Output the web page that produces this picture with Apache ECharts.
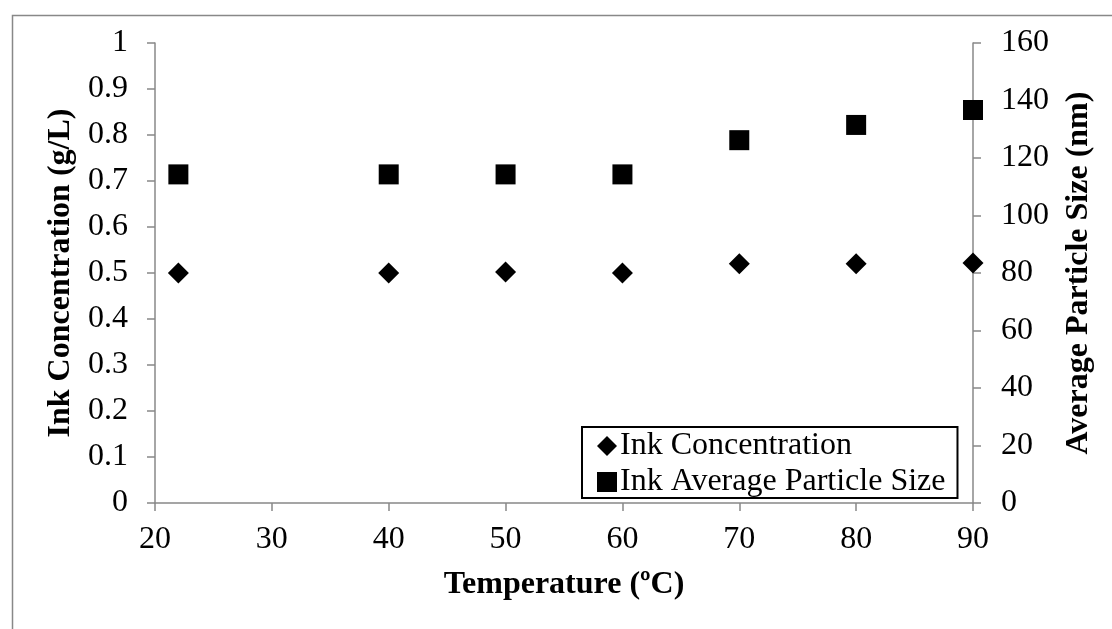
<!DOCTYPE html>
<html>
<head>
<meta charset="utf-8">
<script src="https://cdn.jsdelivr.net/npm/echarts@6/dist/echarts.min.js"></script>
<style>
html,body{margin:0;padding:0;background:#fff;}
#chart{width:1112px;height:629px;}
</style>
</head>
<body>
<div id="chart"></div>
<script>
var temperatures = [22, 40, 50, 60, 70, 80, 90];
var inkConcentration = [0.500, 0.500, 0.502, 0.500, 0.520, 0.520, 0.522];
var particleSize = [114.3, 114.3, 114.3, 114.3, 126.2, 131.5, 136.7];
var seriesNames = ['Ink Concentration', 'Ink Average Particle Size'];
var xTitle = 'Temperature (ºC)';
var yLeftTitle = 'Ink Concentration (g/L)';
var yRightTitle = 'Average Particle Size (nm)';

var FONT = '"Liberation Serif", "Times New Roman", serif';
var AX = '#888888';
var FS = 32;

function pairs(xs, ys){ return xs.map(function(x,i){ return [x, ys[i]]; }); }

var chart = echarts.init(document.getElementById('chart'), null, {renderer:'canvas'});
chart.setOption({
  animation: false,
  backgroundColor: '#fff',
  textStyle: {fontFamily: FONT, color: '#000'},
  graphic: [{
    type: 'rect', left: 10, top: 13,
    shape: {x: 0, y: 0, width: 1200, height: 700},
    style: {fill: 'none', stroke: AX, lineWidth: 1.5},
    silent: true, z: -10
  }],
  grid: {left: 155, right: 139, top: 43, bottom: 126, containLabel: false},
  legend: {
    orient: 'vertical',
    left: 582, top: 427,
    itemWidth: 20, itemHeight: 20,
    itemGap: 4,
    padding: [3, 12, 0, 15],
    borderColor: '#000', borderWidth: 2,
    backgroundColor: '#fff',
    itemStyle: {opacity: 1, color: '#000'},
    textStyle: {fontFamily: FONT, fontSize: FS, color: '#000', padding: [0,0,0,-2]},
    data: [
      {name: seriesNames[0], icon: 'diamond'},
      {name: seriesNames[1], icon: 'rect'}
    ]
  },
  xAxis: {
    type: 'value', min: 20, max: 90, interval: 10,
    name: xTitle, nameLocation: 'middle', nameGap: 66,
    nameTextStyle: {fontFamily: FONT, fontSize: FS, fontWeight: 'bold', color: '#000'},
    axisLine: {show: true, lineStyle: {color: AX, width: 1.5}},
    axisTick: {show: true, length: 8, lineStyle: {color: AX, width: 1.5}},
    axisLabel: {fontFamily: FONT, fontSize: FS, color: '#000', margin: 21},
    splitLine: {show: false}
  },
  yAxis: [{
    type: 'value', min: 0, max: 1, interval: 0.1, position: 'left',
    name: yLeftTitle, nameLocation: 'middle', nameGap: 78, nameRotate: 90,
    nameTextStyle: {fontFamily: FONT, fontSize: FS, fontWeight: 'bold', color: '#000'},
    axisLine: {show: true, lineStyle: {color: AX, width: 1.5}},
    axisTick: {show: true, length: 8, lineStyle: {color: AX, width: 1.5}},
    axisLabel: {fontFamily: FONT, fontSize: FS, color: '#000', margin: 27,
      formatter: function(v){ return String(Math.round(v*10)/10); }},
    splitLine: {show: false}
  }, {
    type: 'value', min: 0, max: 160, interval: 20, position: 'right',
    name: yRightTitle, nameLocation: 'middle', nameGap: 90, nameRotate: 90,
    nameTextStyle: {fontFamily: FONT, fontSize: FS, fontWeight: 'bold', color: '#000'},
    axisLine: {show: true, lineStyle: {color: AX, width: 1.5}},
    axisTick: {show: true, length: 8, lineStyle: {color: AX, width: 1.5}},
    axisLabel: {fontFamily: FONT, fontSize: FS, color: '#000', margin: 28},
    splitLine: {show: false}
  }],
  series: [{
    name: seriesNames[0], type: 'scatter', yAxisIndex: 0,
    symbol: 'diamond', symbolSize: 21,
    itemStyle: {color: '#000', opacity: 1},
    data: pairs(temperatures, inkConcentration)
  }, {
    name: seriesNames[1], type: 'scatter', yAxisIndex: 1,
    symbol: 'rect', symbolSize: 20,
    itemStyle: {color: '#000', opacity: 1},
    data: pairs(temperatures, particleSize)
  }]
});
</script>
</body>
</html>
